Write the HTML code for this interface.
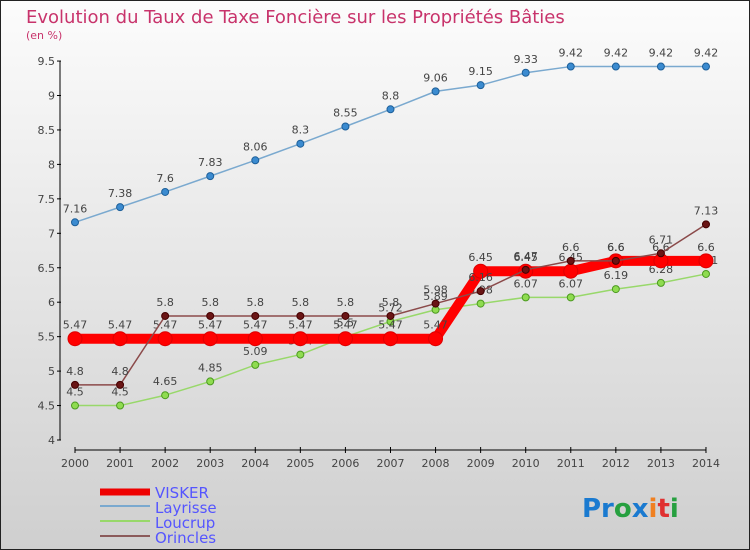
<!DOCTYPE html>
<html><head><meta charset="utf-8"><style>
body{margin:0;width:750px;height:550px;overflow:hidden}
svg{display:block;font-family:"DejaVu Sans","Liberation Sans",sans-serif}
</style></head><body>
<svg id="c" width="750" height="550" viewBox="0 0 750 550">
<defs><linearGradient id="bg" x1="0" y1="0" x2="0" y2="1"><stop offset="0" stop-color="#fcfcfc"/><stop offset="1" stop-color="#cfcfcf"/></linearGradient></defs>
<rect x="0.5" y="0.5" width="749" height="549" fill="url(#bg)" stroke="#222"/>
<text x="26" y="23" font-size="18" fill="#c8336b">Evolution du Taux de Taxe Foncière sur les Propriétés Bâties</text>
<text x="26" y="39" font-size="11" fill="#c8336b">(en %)</text>
<g id="axes"></g><g id="series"></g>
<g>
<line x1="100" y1="492" x2="150" y2="492" stroke="#e00" stroke-width="7"/>
<text x="155" y="498" font-size="15" fill="#5555ff">VISKER</text>
<line x1="100" y1="506" x2="150" y2="506" stroke="#7aa9cf" stroke-width="2"/>
<text x="155" y="513" font-size="15" fill="#5555ff">Layrisse</text>
<line x1="100" y1="521" x2="150" y2="521" stroke="#98d86a" stroke-width="2"/>
<text x="155" y="528" font-size="15" fill="#5555ff">Loucrup</text>
<line x1="100" y1="536" x2="150" y2="536" stroke="#8b5a5a" stroke-width="2"/>
<text x="155" y="543" font-size="15" fill="#5555ff">Orincles</text>
</g>
<text x="582" y="517" font-size="26" font-weight="bold"><tspan fill="#1a7ad0">Pr</tspan><tspan fill="#27a040">o</tspan><tspan fill="#1a7ad0">x</tspan><tspan fill="#f08020">i</tspan><tspan fill="#e03030">t</tspan><tspan fill="#27a040">i</tspan></text>
</svg>
<script>
const years=[2000,2001,2002,2003,2004,2005,2006,2007,2008,2009,2010,2011,2012,2013,2014];
const yTicks=[4,4.5,5,5.5,6,6.5,7,7.5,8,8.5,9,9.5];
const visker=[5.47,5.47,5.47,5.47,5.47,5.47,5.47,5.47,5.47,6.45,6.45,6.45,6.6,6.6,6.6];
const layrisse=[7.16,7.38,7.6,7.83,8.06,8.3,8.55,8.8,9.06,9.15,9.33,9.42,9.42,9.42,9.42];
const loucrup=[4.5,4.5,4.65,4.85,5.09,5.24,5.5,5.72,5.89,5.98,6.07,6.07,6.19,6.28,6.41];
const orincles=[4.8,4.8,5.8,5.8,5.8,5.8,5.8,5.8,5.98,6.16,6.47,6.6,6.6,6.71,7.13];
const NS="http://www.w3.org/2000/svg";
const X=i=>75+i*45.07, Y=v=>440-(v-4)*68.9;
function mk(t,a,p){const e=document.createElementNS(NS,t);for(const k in a)e.setAttribute(k,a[k]);p.appendChild(e);return e;}
const ax=document.getElementById('axes'), sg=document.getElementById('series');
const ya=mk('line',{x1:60,y1:61,x2:60,y2:440,stroke:'#000'},ax);


yTicks.forEach(v=>{mk('line',{x1:57,y1:Y(v),x2:61,y2:Y(v),stroke:'#000'},ax);
 const t=mk('text',{x:55,y:Y(v)+4,'font-size':11,fill:'#444','text-anchor':'end'},ax);t.textContent=v;
 
 });
const xa=mk('line',{x1:75,y1:450,x2:X(14),y2:450,stroke:'#000'},ax);


years.forEach((y,i)=>{mk('line',{x1:X(i),y1:447,x2:X(i),y2:453,stroke:'#000'},ax);
 const t=mk('text',{x:X(i),y:467,'font-size':11,fill:'#444','text-anchor':'middle'},ax);t.textContent=y;
 
 });
function series(name,d,col,w,r,dot,fill){
 const g=mk('g',{},sg);
 
 
 mk('polyline',{points:d.map((v,i)=>X(i)+','+Y(v)).join(' '),fill:'none',stroke:col,'stroke-width':w,'stroke-linejoin':'round'},g);
 d.forEach((v,i)=>{const c=mk('circle',{cx:X(i),cy:Y(v),r:r,fill:dot,stroke:fill,'stroke-width':1},g);
  
  
  const t=mk('text',{x:X(i),y:Y(v)-10,'font-size':11,fill:'#444','text-anchor':'middle'},g);t.textContent=v;
  
  });
}
series('layrisse',layrisse,'#7aa9cf',1.5,3.5,'#3b8bd0','#1d5f99');
series('loucrup',loucrup,'#98d86a',1.5,3.5,'#8fdc50','#4c9a20');
series('visker',visker,'#ff0000',10,7,'#ff0000','#dd0000');
series('orincles',orincles,'#8b4a4a',1.5,3.5,'#6a1515','#400');
</script>
</body></html>
